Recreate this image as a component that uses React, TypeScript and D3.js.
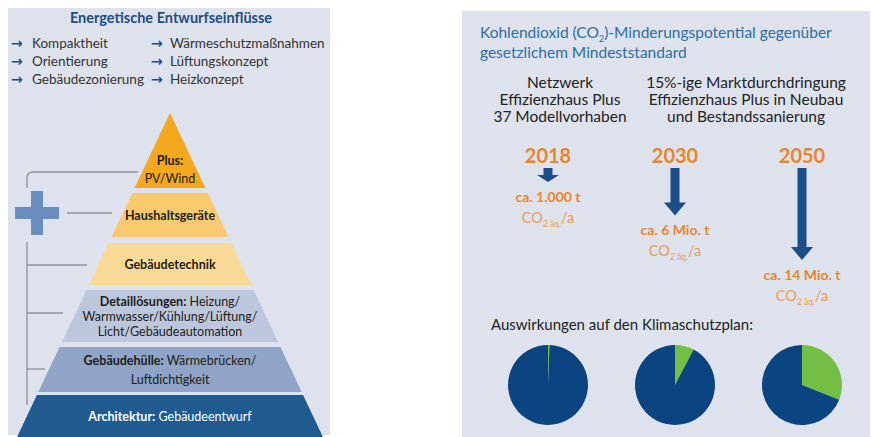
import React from "react";
import * as d3 from "d3";

// ---- data ----
const headerTitle = "Energetische Entwurfseinflüsse";
const influencesCol1 = ["Kompaktheit", "Orientierung", "Gebäudezonierung"];
const influencesCol2 = ["Wärmeschutzmaßnahmen", "Lüftungskonzept", "Heizkonzept"];

// each tier: lines of [bold part, regular part]
const tierLines: [string, string][][] = [
  [["Plus:", ""], ["", "PV/Wind"]],
  [["Haushaltsgeräte", ""]],
  [["Gebäudetechnik", ""]],
  [["Detaillösungen:", " Heizung/"], ["", "Warmwasser/Kühlung/Lüftung/"], ["", "Licht/Gebäudeautomation"]],
  [["Gebäudehülle:", " Wärmebrücken/"], ["", "Luftdichtigkeit"]],
  [["Architektur:", " Gebäudeentwurf"]],
];

const rightTitle = ["Kohlendioxid (CO", "2", ")-Minderungspotential gegenüber"];
const rightTitle2 = "gesetzlichem Mindeststandard";
const scenarioHeads = [
  ["Netzwerk", "Effizienzhaus Plus", "37 Modellvorhaben"],
  ["15%-ige Marktdurchdringung", "Effizienzhaus Plus in Neubau", "und Bestandssanierung"],
];
const years = ["2018", "2030", "2050"];
const savingsMioT = [0.001, 6, 14];
const savingsLabels = ["ca. 1.000 t", "ca. 6 Mio. t", "ca. 14 Mio. t"];
const planShare = [0.006, 0.077, 0.31];
const pieTitle = "Auswirkungen auf den Klimaschutzplan:";

// ---- styles ----
const FONT = "Lato, 'Noto Sans', sans-serif";
const panelBg = "#dde2ed";
const tierFill = ["#f4a81d", "#f9c970", "#fbda97", "#bcc7db", "#8fa4c7", "#1f5b8f"];
const tierText = ["#1d1d1b", "#1d1d1b", "#1d1d1b", "#1d1d1b", "#1d1d1b", "#ffffff"];
const orange = "#e9862c";
const orangeLight = "#ee9a55";
const navy = "#1b4e89";
const pieBlue = "#0a4481";
const pieGreen = "#72bf44";
const lineGray = "#8c919b";

// pyramid geometry
const apexX = 170;
const apexY = 113;
const slope = 0.472;
const bands: [number, number][] = [
  [113, 188],
  [193, 237],
  [243, 285],
  [290, 342],
  [347, 392],
  [395, 437],
];

function trapezoid(yt: number, yb: number) {
  const ht = slope * (yt - apexY);
  const hb = slope * (yb - apexY);
  return `M${apexX - ht},${yt}L${apexX + ht},${yt}L${apexX + hb},${yb}L${apexX - hb},${yb}Z`;
}

const xYear = d3.scalePoint<string>().domain(years).range([548, 802]);
const arrowLen = d3.scaleLinear().domain([0, 14]).range([14, 92]);
const pie = d3.pie<number>().sort(null);
const arc = d3.arc<d3.PieArcDatum<number>>().innerRadius(0).outerRadius(40);

function Arrow({ x, y0, len }: { x: number; y0: number; len: number }) {
  const sw = 4.5;
  const hw = 11;
  const hh = Math.min(13, len * 0.5);
  const y1 = y0 + len;
  const ys = y1 - hh;
  const d = `M${x - sw},${y0}L${x + sw},${y0}L${x + sw},${ys}L${x + hw},${ys}L${x},${y1}L${x - hw},${ys}L${x - sw},${ys}Z`;
  return <path d={d} fill={navy} />;
}

function CO2Line({ x, y }: { x: number; y: number }) {
  return (
    <text x={x} y={y} textAnchor="middle" fontSize={14.5} fill={orangeLight} fontFamily={FONT}>
      CO
      <tspan fontSize={8.5} dy={4}>2 äq.</tspan>
      <tspan dy={-4}>/a</tspan>
    </text>
  );
}

export default function App() {
  const lineYs = [48, 66, 84];
  return (
    <svg
      width={871}
      height={437}
      style={{ position: "absolute", left: 0, top: 0, background: "#ffffff" }}
      fontFamily={FONT}
    >
      {/* left panel */}
      <rect x={8} y={8} width={322} height={427} fill={panelBg} />
      <text x={171} y={23} textAnchor="middle" fontSize={14.5} fontWeight={700} fill="#1e4d86">
        {headerTitle}
      </text>
      {influencesCol1.map((t, i) => (
        <g key={"a" + i}>
          <text x={11} y={lineYs[i]} fontSize={14} fill="#1e4d86" fontFamily="'DejaVu Sans'" fontWeight={700}>→</text>
          <text x={32} y={lineYs[i]} fontSize={13.5} fill="#333">{t}</text>
        </g>
      ))}
      {influencesCol2.map((t, i) => (
        <g key={"b" + i}>
          <text x={151} y={lineYs[i]} fontSize={14} fill="#1e4d86" fontFamily="'DejaVu Sans'" fontWeight={700}>→</text>
          <text x={170} y={lineYs[i]} fontSize={13.5} fill="#333">{t}</text>
        </g>
      ))}

      {/* bracket lines */}
      <g fill="none" stroke={lineGray} strokeWidth={1.3}>
        <path d="M27,188L27,178Q27,172 33,172L138,172" />
        <path d="M67,213L112,213" />
        <path d="M27,242L27,405" />
        <path d="M27,265L87,265" />
        <path d="M27,313L63,313" />
        <path d="M27,369L45,369" />
      </g>
      <g fill="#6a8dbf">
        <rect x={15} y={207} width={44} height={12} />
        <rect x={31} y={191} width={12} height={44} />
      </g>

      {/* pyramid */}
      {bands.map(([yt, yb], i) => {
        const lines = tierLines[i];
        const spacing = i === 3 ? 15 : i === 4 ? 19 : 18;
        const mid = i === 0 ? 169 : (yt + yb) / 2;
        const first = mid - ((lines.length - 1) * spacing) / 2 + 4.5;
        return (
          <g key={i}>
            <path d={trapezoid(yt, yb)} fill={tierFill[i]} />
            {lines.map(([b, r], j) => (
              <text
                key={j}
                x={apexX}
                y={first + j * spacing}
                textAnchor="middle"
                fontSize={12.5}
                fill={tierText[i]}
              >
                {b && <tspan fontWeight={700}>{b}</tspan>}
                {r && <tspan fontWeight={400}>{r}</tspan>}
              </text>
            ))}
          </g>
        );
      })}

      {/* right panel */}
      <rect x={462} y={11} width={408} height={426} fill={panelBg} />
      <text x={480} y={38} fontSize={15.5} fill="#2e6da4">
        {rightTitle[0]}
        <tspan fontSize={9} dy={4}>{rightTitle[1]}</tspan>
        <tspan dy={-4}>{rightTitle[2]}</tspan>
      </text>
      <text x={480} y={58} fontSize={15.5} fill="#2e6da4">
        {rightTitle2}
      </text>
      {scenarioHeads.map((lines, i) => (
        <g key={i}>
          {lines.map((l, j) => (
            <text key={j} x={i === 0 ? 560 : 746} y={88 + j * 17} textAnchor="middle" fontSize={15.5} fill="#222">
              {l}
            </text>
          ))}
        </g>
      ))}
      {years.map((yr, i) => {
        const x = xYear(yr)!;
        const len = arrowLen(savingsMioT[i]);
        const yEnd = 168 + len;
        return (
          <g key={yr}>
            <text x={x} y={163} textAnchor="middle" fontSize={20} fontWeight={700} fill={orange}>
              {yr}
            </text>
            <Arrow x={x} y0={168} len={len} />
            <text x={x} y={yEnd + 20} textAnchor="middle" fontSize={14} fontWeight={700} fill={orange}>
              {savingsLabels[i]}
            </text>
            <CO2Line x={x} y={yEnd + 41} />
          </g>
        );
      })}
      <text x={491} y={330} fontSize={15} fill="#222">
        {pieTitle}
      </text>
      {planShare.map((s, i) => {
        const arcs = pie([s, 1 - s]);
        return (
          <g key={i} transform={`translate(${xYear(years[i])},385)`}>
            {arcs.map((a, j) => (
              <path key={j} d={arc(a)!} fill={j === 0 ? pieGreen : pieBlue} />
            ))}
          </g>
        );
      })}
    </svg>
  );
}
